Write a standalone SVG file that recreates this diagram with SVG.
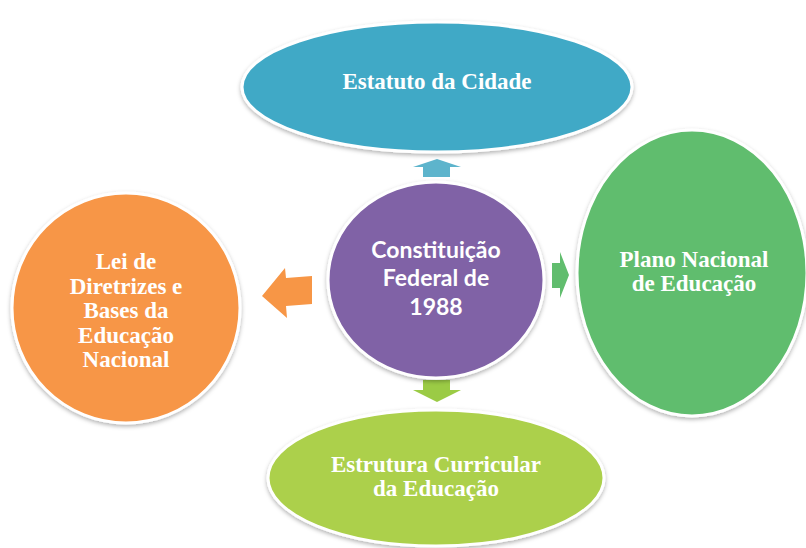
<svg xmlns="http://www.w3.org/2000/svg" width="806" height="548" viewBox="0 0 806 548">
<defs>
<filter id="sh" x="-10%" y="-10%" width="120%" height="125%">
<feDropShadow dx="0" dy="2" stdDeviation="2" flood-color="#000" flood-opacity="0.3"/>
</filter>
<style>
.node{stroke:#fff;stroke-width:3;filter:url(#sh)}
.serif{font-family:"Liberation Serif","Times New Roman",serif;font-weight:bold;font-size:23px;fill:#fff;text-anchor:middle}
.sans{font-family:Lato,"Open Sans",sans-serif;font-weight:bold;font-size:23px;fill:#fff;text-anchor:middle}
</style>
</defs>
<rect width="806" height="548" fill="#fff"/>
<g id="connectors">
<polygon points="413,167 437,159 461,167 450,167 450,177 423,177 423,167" fill="#4BACC6" opacity="0.9"/>
<polygon points="312,276 286,278 285,268 262,296 287,318 286,306 312,304" fill="#F79646"/>
<polygon points="552,263 560,263 560,252 569,275 560,298 560,288 552,288" fill="#61BD6E"/>
<polygon points="423,380 450,380 450,390 461,390 437,402 413,390 423,390" fill="#9BCB45"/>
</g>
<g id="n-estatuto">
<ellipse class="node" cx="437" cy="87" rx="195" ry="65" fill="#41A9C6"/>
<text class="serif" x="437" y="89">Estatuto da Cidade</text>
</g>
<g id="n-lei">
<ellipse class="node" cx="126" cy="308" rx="114" ry="115" fill="#F79646"/>
<text class="serif" x="126" y="269">Lei de</text>
<text class="serif" x="126" y="293.5">Diretrizes e</text>
<text class="serif" x="126" y="318">Bases da</text>
<text class="serif" x="126" y="342.5">Educação</text>
<text class="serif" x="126" y="367">Nacional</text>
</g>
<g id="n-plano">
<ellipse class="node" cx="692" cy="273" rx="115" ry="143" fill="#61BD6E"/>
<text class="serif" x="694" y="267">Plano Nacional</text>
<text class="serif" x="694" y="291">de Educação</text>
</g>
<g id="n-estrutura">
<ellipse class="node" cx="436" cy="478" rx="168" ry="68" fill="#ACD04B"/>
<text class="serif" x="436" y="472">Estrutura Curricular</text>
<text class="serif" x="436" y="496">da Educação</text>
</g>
<g id="n-constituicao">
<ellipse class="node" cx="436" cy="280" rx="108" ry="98" fill="#8062A6"/>
<text class="sans" x="436" y="258">Constituição</text>
<text class="sans" x="436" y="286">Federal de</text>
<text class="sans" x="436" y="315">1988</text>
</g>
</svg>
